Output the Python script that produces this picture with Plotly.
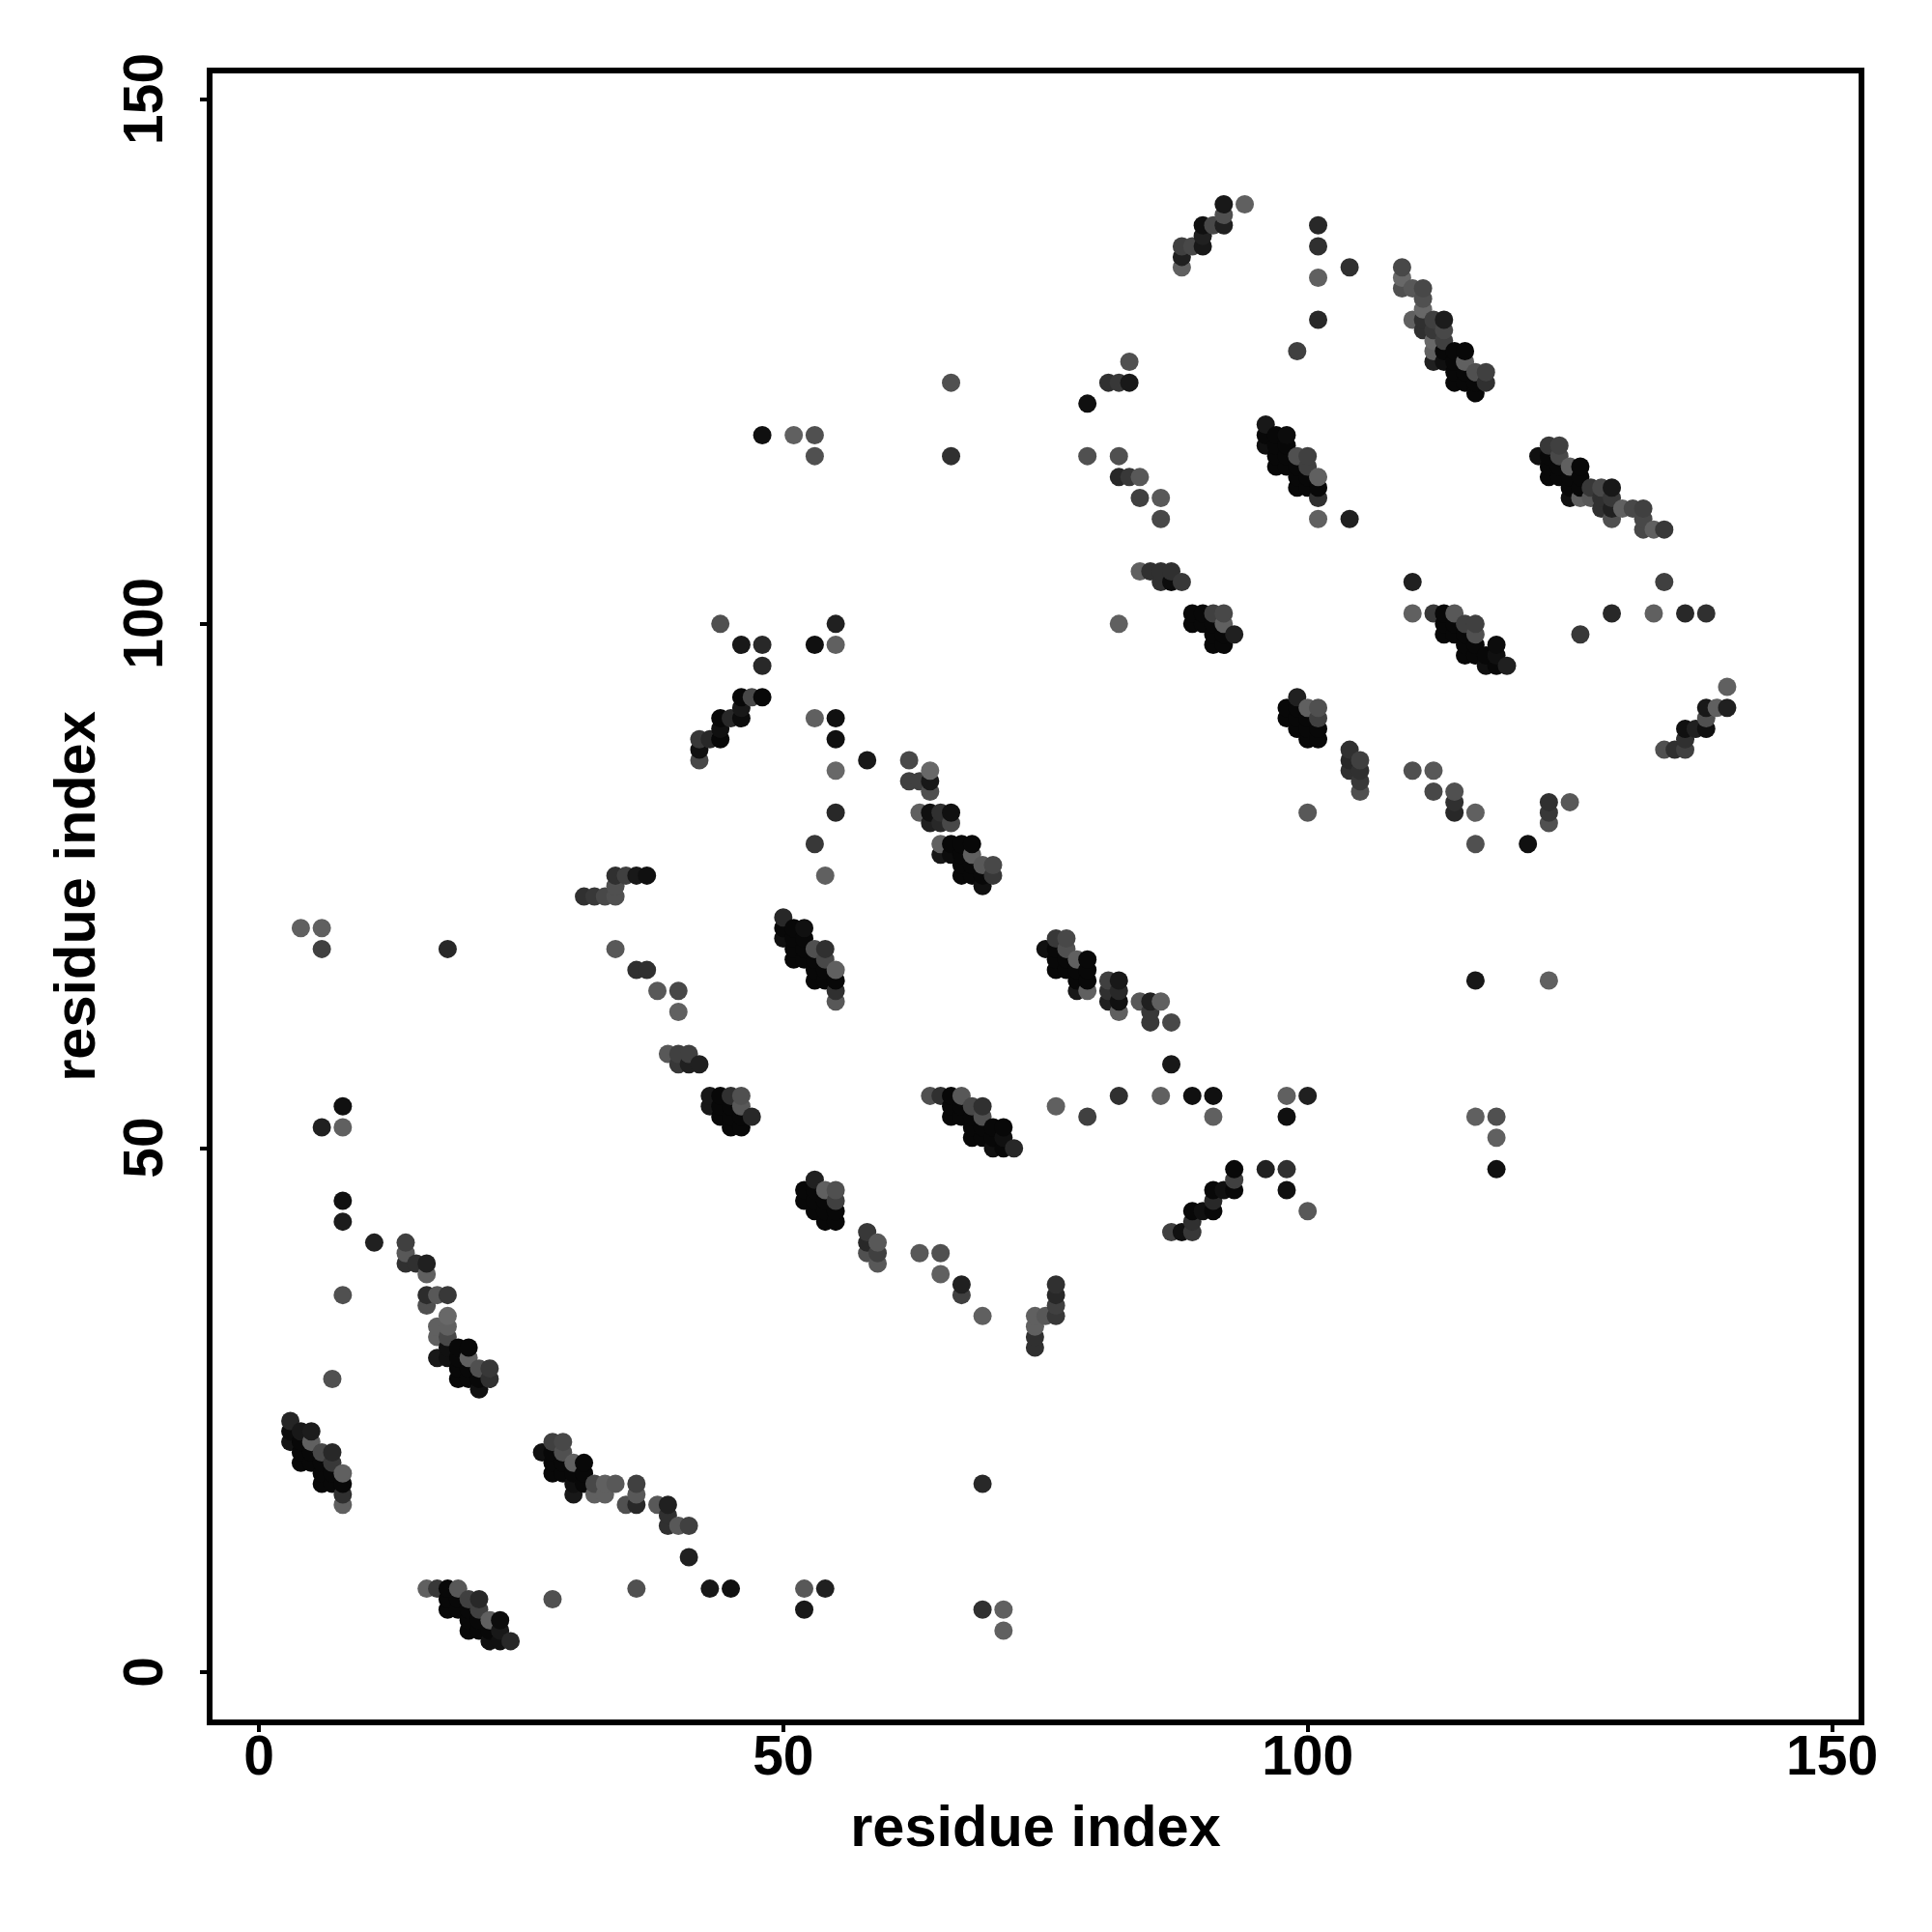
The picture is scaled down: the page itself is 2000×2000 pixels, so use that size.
import plotly.graph_objects as go

# Each group: residue i, residue j, grey level of the dot (drawn in listed order)
a_x = [3,3,3, 4,4,4,4, 5,5,5,5, 6,6,6,6, 7,7,7,7, 8,8,8,8]
a_y = [22,23,24, 20,21,22,23, 20,21,22,23, 18,19,20,21, 18,19,20,21, 16,17,18,19]
a_g = [0x14,0x0c,0x25, 8,8,8,0x18, 8,8,0x60,0x1c, 8,8,8,0x48, 8,8,0x38,0x28, 0x60,0x30,8,0x60]

b_x = [14,14,14, 15, 16,16,16,16, 17,17,17,17, 18,18,18,18,18,18, 19,19,19,19, 20,20,20,20, 21,21,21, 22,22]
b_y = [39,40,41, 39, 35,36,38,39, 30,32,33,36, 30,31,32,33,34,36, 28,29,30,31, 28,29,30,31, 27,28,29, 28,29]
b_g = [0x30,0x58,0x40, 0x30, 0x50,0x2c,0x60,0x20, 0x18,0x60,0x60,0x58, 0x10,0x10,0x48,0x60,0x68,0x38, 8,8,8,8, 8,8,0x60,8, 0x10,8,0x50, 0x30,0x38]

c_x = [4,6,6,6,7,8,8,8,8,8,11,18]
c_y = [71,69,71,52,28,36,43,45,52,54,41,69]
c_g = [0x60,0x40,0x60,0x20,0x50,0x50,0x1c,0x10,0x60,0x10,0x20,0x28]

d_x = [27, 28,28,28,28, 29,29,29,29, 30,30,30,30, 31,31,31, 32,32, 33,33, 34, 35, 36,36,36, 38, 39,39,39, 40, 41,41]
d_y = [21, 19,20,21,22, 19,20,21,22, 17,18,19,20, 18,19,20, 17,18, 17,18, 18, 16, 16,17,18, 16, 14,15,16, 14, 11,14]
d_g = [0x10, 8,8,8,0x40, 8,8,0x50,0x48, 0x18,0x10,8,0x60, 8,8,8, 0x60,0x48, 0x60,0x60, 0x58, 0x50, 0x28,0x58,0x40, 0x58, 0x30,0x30,0x20, 0x58, 0x20,0x40]

e_x = [16, 17, 18,18,18, 19,19,19, 20,20,20,20, 21,21,21,21, 22,22,22, 23,23,23, 24]
e_y = [8, 8, 6,7,8, 6,7,8, 4,5,6,7, 4,5,6,7, 3,4,5, 3,4,5, 3]
e_g = [0x60, 0x38, 8,8,8, 8,8,0x58, 8,8,8,0x40, 8,8,0x40,0x28, 0x10,8,0x60, 0x10,0x18,0x0c, 0x28]

f_x = [28,36,43,45,52,52,54,69,69,71,71]
f_y = [7,8,8,8,6,8,8,6,18,4,6]
f_g = [0x50,0x50,0x18,0x10,0x18,0x58,0x20,0x30,0x28,0x60,0x60]

h_x = [42,42,42, 43, 44,44,44,44, 45, 46,46,46,46, 47, 48,48,48,48]
h_y = [87,88,89, 89, 89,90,91,100, 91, 91,92,93,98, 93, 93,96,98,118]
h_g = [0x48,0x10,0x38, 0x28, 8,0x10,8,0x50, 0x28, 0x0c,0x18,8,0x18, 0x48, 8,0x28,0x28,0x10]

k_x = [51,53,53,53,53,53,54,55,55,55,55,55,55,58,66,66]
k_y = [118,79,91,98,116,118,76,82,86,89,91,98,100,87,116,123]
k_g = [0x60,0x38,0x60,0x10,0x50,0x50,0x60,0x28,0x68,0x10,0x10,0x60,0x20,0x18,0x30,0x50]

m_x = [62,62, 63,63, 64,64,64,64,64, 65,65,65,65, 66,66,66,66, 67,67,67,67, 68,68,68,68, 69,69,69, 70,70]
m_y = [85,87, 82,85, 81,82,84,85,86, 78,79,81,82, 78,79,81,82, 76,77,78,79, 76,77,78,79, 75,76,77, 76,77]
m_g = [0x40,0x48, 0x60,0x40, 0x20,0x10,0x50,0x18,0x68, 0x18,0x60,0x28,0x30, 0x0c,8,0x48,0x10, 8,8,8,8, 8,8,0x60,8, 0x10,8,0x58, 0x38,0x48]

n_x = [50,50,50, 51,51,51,51, 52,52,52,52, 53,53,53,53, 54,54,54,54, 55,55,55,55]
n_y = [70,71,72, 68,69,70,71, 68,69,70,71, 66,67,68,69, 66,67,68,69, 64,65,66,67]
n_g = [0x10,8,0x28, 8,8,8,8, 8,8,8,0x10, 8,8,8,0x50, 8,8,0x48,0x30, 0x58,0x30,8,0x60]

p_x = [64, 65, 66,66,66, 67,67,67, 68,68,68,68, 69,69,69,69, 70,70,70, 71,71,71, 72]
p_y = [55, 55, 53,54,55, 53,54,55, 51,52,53,54, 51,52,53,54, 50,51,52, 50,51,52, 50]
p_g = [0x50, 0x30, 8,8,8, 8,8,0x58, 8,8,8,0x48, 8,8,0x50,0x30, 0x10,8,8, 8,0x10,8, 0x28]

q_x = [75, 76,76,76,76, 77,77,77,77, 78,78,78,78, 79,79,79,79, 81,81,81, 82,82,82,82, 84, 85,85,85, 86, 87,87]
q_y = [69, 67,68,69,70, 67,68,69,70, 65,66,67,68, 65,66,67,68, 64,65,66, 63,64,65,66, 64, 62,63,64, 64, 58,62]
q_g = [0x10, 8,8,8,0x38, 8,8,0x50,0x48, 0x18,8,8,0x60, 0x60,8,8,8, 0x20,0x30,0x40, 0x60,0x10,0x28,0x18, 0x58, 0x38,0x38,0x20, 0x60, 0x18,0x48]

r_x = [76,79,82,86,89,91,91,96,98,98,98,98,100,100]
r_y = [54,53,55,55,55,53,55,48,46,48,53,55,44,55]
r_g = [0x60,0x40,0x30,0x60,0x10,0x60,0x10,0x20,0x10,0x30,0x10,0x60,0x58,0x20]

s_x = [87, 88, 89,89,89, 90, 91,91,91, 92, 93,93,93]
s_y = [42, 42, 42,43,44, 44, 44,45,46, 46, 46,47,48]
s_g = [0x40, 0x10, 0x38,0x30,8, 0x10, 8,0x28,8, 0x10, 8,0x40,8]

t_x = [43,43, 44,44,44, 45,45,45,45, 46,46,46,46, 47]
t_y = [54,55, 53,54,55, 52,53,54,55, 52,53,54,55, 53]
t_g = [0x18,0x18, 8,8,8, 8,8,8,0x30, 8,8,0x58,0x50, 0x28]

u_x = [31, 32, 33, 34,34,34,34, 35, 36,36, 37,37, 38, 39, 40,40,40,40, 41,41, 42]
u_y = [74, 74, 74, 69,74,75,76, 76, 67,76, 67,76, 65, 59, 58,59,63,65, 58,59, 58]
u_g = [0x30, 0x38, 0x48, 0x58,0x50,0x50,0x30, 0x40, 0x30,0x18, 0x30,0x10, 0x58, 0x58, 0x38,0x40,0x60,0x48, 0x20,0x40, 0x20]

v_x = [52,52, 53,53,53,53, 54,54,54,54, 55,55,55,55, 58,58,58, 59,59,59]
v_y = [45,46, 44,45,46,47, 43,44,45,46, 43,44,45,46, 40,41,42, 39,40,41]
v_g = [8,8, 8,8,8,0x20, 8,8,8,0x60, 8,8,0x40,0x50, 0x50,0x28,0x38, 0x58,0x40,0x58]

w_x = [63,65,65,67,67,69,74,74,74,74,75,76,76,76,76]
w_y = [40,38,40,36,37,34,31,32,33,34,34,34,35,36,37]
w_g = [0x58,0x60,0x50,0x40,0x20,0x60,0x30,0x30,0x60,0x60,0x58,0x38,0x40,0x28,0x30]

aa_x = [79,79,81,82,82,82,82,83,83,83,84,84,84,85,86,86,86,86,87,87,88]
aa_y = [116,121,123,100,114,116,123,114,123,125,105,112,114,105,104,105,110,112,104,105,104]
aa_g = [0x50,0x10,0x30,0x60,0x28,0x50,0x38,0x38,0x18,0x50,0x60,0x40,0x58,0x30,0x30,0x30,0x48,0x58,0x0c,0x30,0x38]

ab_x = [89,89, 90,90, 91,91,91,91, 92,92,92,92, 93]
ab_y = [100,101, 100,101, 98,99,100,101, 98,99,100,101, 99]
ab_g = [8,8, 8,8, 8,8,8,0x40, 8,8,0x60,0x48, 0x20]

ac_x = [96,96,96, 97,97,97,97, 98,98,98,98, 99,99,99,99,99, 100,100,100,100, 101,101,101,101, 104]
ac_y = [117,118,119, 115,116,117,118, 115,116,117,118, 113,114,115,116,126, 113,114,115,116, 110,112,113,114, 110]
ac_g = [0x10,8,0x18, 8,8,8,8, 8,8,8,0x0c, 8,8,8,0x50,0x40, 8,8,0x40,0x40, 0x60,0x30,8,0x60, 0x20]

ad_x = [98,98, 99,99,99,99, 100,100,100,100,100, 101,101,101,101, 104,104,104, 105,105,105,105]
ad_y = [91,92, 90,91,92,93, 82,89,90,91,92, 89,90,91,92, 86,87,88, 84,85,86,87]
ad_g = [8,8, 8,8,8,0x20, 0x58,8,8,8,0x60, 8,8,0x40,0x50, 0x30,0x28,0x30, 0x50,0x38,0x30,0x40]

ae_x = [110,110, 112, 113,113,113, 114,114,114, 115,115,115,115, 116,116,116,116, 117,117, 118,118,118, 119]
ae_y = [101,104, 101, 99,100,101, 99,100,101, 97,98,99,100, 97,98,99,100, 96,97, 96,97,98, 96]
ae_g = [0x60,0x20, 0x38, 8,8,8, 8,8,0x58, 8,8,8,0x40, 8,8,0x50,0x40, 0x10,8, 8,0x10,0x0c, 0x20]

af_x = [110,112,112,114,114,114,116,116,116,116,118,118,118,121,123,123,123,123,125,126,129,133,134,136,138]
af_y = [86,84,86,82,83,84,53,66,79,82,48,51,53,79,66,81,82,83,83,99,101,101,104,101,101]
af_g = [0x50,0x48,0x58,0x28,0x30,0x50,0x60,0x18,0x50,0x60,0x10,0x60,0x50,0x10,0x60,0x50,0x38,0x30,0x58,0x38,0x28,0x60,0x40,0x28,0x30]

ag_x = [134,135,136,136,136,137,138,138,138,139,140,140]
ag_y = [88,88,88,89,90,90,90,91,92,92,92,94]
ag_g = [0x50,0x30,0x40,0x30,0x10,0x20,0x10,0x50,0x18,0x60,0x20,0x60]

ah_x = [88,88,88,89,90,90,90,91,92,92,92,94,101,101,101,101,104]
ah_y = [134,135,136,136,136,137,138,138,138,139,140,140,129,133,136,138,134]
ah_g = [0x60,0x20,0x40,0x48,0x18,0x20,0x10,0x48,0x20,0x50,0x18,0x60,0x28,0x60,0x30,0x28,0x30]

ai_x = [109,109,109, 110,110, 111,111,111,111,111, 112,112,112,112,112, 113,113,113,113,113, 114,114,114,114, 115,115,115,115, 116,116,116, 117,117]
ai_y = [132,133,134, 129,132, 128,129,130,131,132, 125,126,127,128,129, 125,126,127,128,129, 123,124,125,126, 123,124,125,126, 122,123,124, 123,124]
ai_g = [0x50,0x68,0x48, 0x60,0x58, 0x30,0x30,0x68,0x50,0x48, 0x20,0x60,0x68,0x38,0x40, 0x10,8,0x40,0x48,0x1c, 8,8,8,8, 8,8,0x60,8, 8,8,0x50, 0x30,0x40]

aj_x = [122, 123,123,123,123, 124,124,124,124, 125,125,125,125, 126,126,126,126, 127,127, 128,128,128, 129,129,129,129, 130, 131, 132,132,132, 133, 134]
aj_y = [116, 114,115,116,117, 114,115,116,117, 112,113,114,115, 112,113,114,115, 112,113, 111,112,113, 110,111,112,113, 111, 111, 109,110,111, 109, 109]
aj_g = [0x10, 8,8,8,0x38, 8,8,0x48,0x40, 0x10,8,8,0x60, 0x60,8,8,8, 0x58,0x38, 0x30,0x30,0x48, 0x50,0x20,0x38,0x18, 0x60, 0x48, 0x48,0x48,0x40, 0x60, 0x38]

groups = [(a_x,a_y,a_g),(b_x,b_y,b_g),(c_x,c_y,c_g),(d_x,d_y,d_g),(e_x,e_y,e_g),(f_x,f_y,f_g),
          (h_x,h_y,h_g),(k_x,k_y,k_g),(m_x,m_y,m_g),(n_x,n_y,n_g),(p_x,p_y,p_g),(q_x,q_y,q_g),
          (r_x,r_y,r_g),(s_x,s_y,s_g),(t_x,t_y,t_g),(u_x,u_y,u_g),(v_x,v_y,v_g),(w_x,w_y,w_g),
          (aa_x,aa_y,aa_g),(ab_x,ab_y,ab_g),(ac_x,ac_y,ac_g),(ad_x,ad_y,ad_g),(ae_x,ae_y,ae_g),
          (af_x,af_y,af_g),(ag_x,ag_y,ag_g),(ah_x,ah_y,ah_g),(ai_x,ai_y,ai_g),(aj_x,aj_y,aj_g)]

tick_vals = [0, 50, 100, 150]
axis_label = "residue index"

fig = go.Figure()
for gx, gy, gg in groups:
    assert len(gx) == len(gy) == len(gg), (gx[0], len(gx), len(gy), len(gg))
    fig.add_trace(go.Scatter(x=gx, y=gy, mode="markers", showlegend=False,
                             marker=dict(size=19, color=[f"rgb({v},{v},{v})" for v in gg], line=dict(width=0))))

TICK_FONT = dict(family="Liberation Sans", size=57, color="black", weight="bold")
TITLE_FONT = dict(family="Liberation Sans", size=59.5, color="black", weight="bold")
axis_common = dict(
    tickvals=tick_vals,
    showgrid=False, zeroline=False, showline=True, mirror=True,
    linecolor="black", linewidth=5.5, ticks="outside", ticklen=7, tickwidth=4, tickcolor="black",
    tickfont=TICK_FONT,
)
fig.update_layout(
    width=2000, height=2000, paper_bgcolor="white", plot_bgcolor="white",
    margin=dict(l=212, r=83.5, t=68, b=227.5),
    xaxis=dict(range=[-4.42, 152.53], ticklabelstandoff=-24, ticktext=[str(v) for v in tick_vals],
               title=dict(text=axis_label, font=TITLE_FONT, standoff=23), **axis_common),
    yaxis=dict(range=[-4.47, 152.49], tickangle=-90, ticklabelstandoff=16,
               ticktext=[f"{v}\u00a0" for v in tick_vals],
               title=dict(text=axis_label, font=TITLE_FONT, standoff=1), **axis_common),
)
fig.write_html("out.html")
